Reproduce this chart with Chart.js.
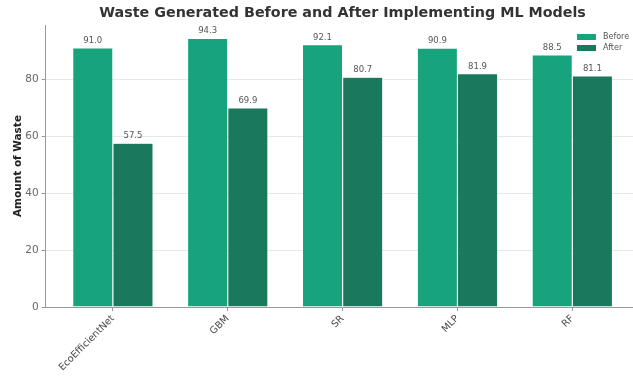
<!DOCTYPE html>
<html lang="en">
<head>
  <meta charset="UTF-8" />
  <title>Waste Generated Before and After Implementing ML Models</title>
  <script src="https://cdn.jsdelivr.net/npm/chart.js"></script>
  <style>
    html, body {
      margin: 0;
      padding: 0;
      background: #fff;
      overflow: hidden;
    }
    canvas {
      display: block;
    }
  </style>
</head>
<body>
  <canvas id="wasteChart" width="660" height="378"></canvas>

<script>
  const models = ["EcoEfficientNet", "GBM", "SR", "MLP", "RF"];
  const wasteBefore = [91.0, 94.3, 92.1, 90.9, 88.5];
  const wasteAfter = [57.5, 69.9, 80.7, 81.9, 81.1];
  const yTicks = [0, 20, 40, 60, 80];

  const chartTitle = "Waste Generated Before and After Implementing ML Models";
  const beforeColor = "#17a37c";
  const afterColor = "#1a795c";

  // title centred over the plot area rather than the whole canvas
  const plotTitle = {
    id: "plotTitle",
    afterDraw(chart) {
      const { ctx, chartArea } = chart;
      ctx.save();
      ctx.font = "bold 14.3px 'DejaVu Sans'";
      ctx.fillStyle = "#333";
      ctx.textAlign = "center";
      ctx.textBaseline = "middle";
      ctx.fillText(chartTitle, (chartArea.left + chartArea.right) / 2, 13);
      ctx.restore();
    }
  };

  // value printed above each bar
  const barValues = {
    id: "barValues",
    afterDatasetsDraw(chart) {
      const ctx = chart.ctx;
      ctx.save();
      ctx.font = "8.5px 'DejaVu Sans'";
      ctx.fillStyle = "#555";
      ctx.textAlign = "center";
      ctx.textBaseline = "bottom";
      chart.data.datasets.forEach((ds, i) => {
        chart.getDatasetMeta(i).data.forEach((bar, j) => {
          ctx.fillText(ds.data[j].y.toFixed(1), bar.x, bar.y - 3);
        });
      });
      ctx.restore();
    }
  };

  // small legend inside the plot, top right
  const cornerLegend = {
    id: "cornerLegend",
    afterDraw(chart) {
      const ctx = chart.ctx;
      ctx.save();
      ctx.font = "8px 'DejaVu Sans'";
      ctx.textBaseline = "middle";
      chart.data.datasets.forEach((ds, i) => {
        const y = 37 + i * 11;
        ctx.fillStyle = ds.backgroundColor;
        ctx.fillRect(577, y - 3, 19, 6);
        ctx.fillStyle = "#555";
        ctx.fillText(ds.label, 603, y);
      });
      ctx.restore();
    }
  };

  const ctx = document.getElementById("wasteChart").getContext("2d");
  new Chart(ctx, {
    type: "bar",
    data: {
      datasets: [
        {
          label: "Before",
          data: wasteBefore.map((v, i) => ({ x: i, y: v })),
          backgroundColor: beforeColor,
          borderColor: "rgba(255,255,255,0.6)",
          borderWidth: 0.6
        },
        {
          label: "After",
          data: wasteAfter.map((v, i) => ({ x: i, y: v })),
          backgroundColor: afterColor,
          borderColor: "rgba(255,255,255,0.6)",
          borderWidth: 0.6
        }
      ]
    },
    options: {
      responsive: false,
      animation: false,
      categoryPercentage: 0.7,
      barPercentage: 1.0,
      layout: {
        padding: { left: 0, right: 20.5, top: 25, bottom: 0 }
      },
      scales: {
        x: {
          type: "linear",
          offset: false,
          min: -0.585,
          max: 4.585,
          afterFit: scale => { scale.height = 71; },
          afterBuildTicks: scale => {
            scale.ticks = models.map((m, i) => ({ value: i }));
          },
          ticks: {
            autoSkip: false,
            minRotation: 45,
            maxRotation: 45,
            padding: 2,
            color: "#444",
            font: { family: "'DejaVu Sans'", size: 9.7 },
            callback: v => models[v]
          },
          grid: {
            offset: false,
            drawOnChartArea: false,
            tickLength: 4,
            tickColor: "#999"
          },
          border: { color: "#999", width: 1 }
        },
        y: {
          min: 0,
          max: 99.015,
          afterFit: scale => { scale.width = 45.7; },
          afterBuildTicks: scale => {
            scale.ticks = yTicks.map(v => ({ value: v }));
          },
          ticks: {
            padding: 3,
            color: "#666",
            font: { family: "'DejaVu Sans'", size: 10.5 }
          },
          grid: {
            color: "#e8e8e8",
            borderDash: [3, 3],
            tickLength: 4,
            tickColor: "#999",
            tickBorderDash: []
          },
          border: { color: "#999", width: 1 },
          title: {
            display: true,
            text: "Amount of Waste",
            color: "#222",
            padding: { top: 12, bottom: 0 },
            font: { family: "'DejaVu Sans'", size: 10.5, weight: "bold" }
          }
        }
      },
      plugins: {
        legend: { display: false },
        tooltip: { enabled: false },
        title: { display: false }
      }
    },
    plugins: [barValues, cornerLegend, plotTitle]
  });
</script>

</body>
</html>
